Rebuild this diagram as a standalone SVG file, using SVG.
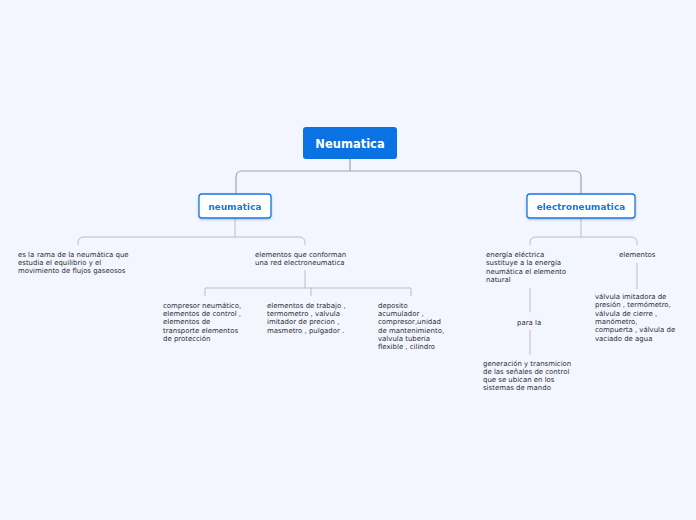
<svg xmlns="http://www.w3.org/2000/svg" width="696" height="520" viewBox="0 0 696 520">
<defs>
<style>
.bg{fill:#f3f6fe}
.c{fill:none;stroke:#b9bdc8;stroke-width:1}
.cr{fill:none;stroke:#9ea3ae;stroke-width:1.2}
.root{fill:#0a72e3}
.rt{font-family:"DejaVu Sans",Verdana,sans-serif;font-size:11.5px;font-weight:bold;fill:#ffffff;text-anchor:middle}
.sub{fill:#ffffff;stroke:#1877e6;stroke-width:1.3}
.st{font-family:"DejaVu Sans",Verdana,sans-serif;font-size:9px;font-weight:bold;fill:#1877e6;text-anchor:middle}
.t{font-family:"DejaVu Sans",Verdana,sans-serif;font-size:6.95px;fill:#2d2d35}
</style>
<filter id="sh" x="-10%" y="-10%" width="120%" height="130%"><feDropShadow dx="0" dy="1" stdDeviation="0.8" flood-color="#000" flood-opacity="0.25"/></filter>
</defs>
<rect class="bg" x="0" y="0" width="696" height="520"/>
<g id="connectors">
<path class="cr" d="M350 159 V171 M236 194 V177 Q236 171 242 171 H575 Q581 171 581 177 V194"/>
<path class="c" d="M235 218 V237 M78 245 V243 Q78 237 84 237 H299 Q305 237 305 243 V245"/>
<path class="c" d="M305 270 V288 M205 296 V288 H411 V296 M311 288 V296"/>
<path class="c" d="M581 218 V237 M530 245 V243 Q530 237 536 237 H631 Q637 237 637 243 V245"/>
<path class="c" d="M530 288 V312 M530 330 V355"/>
<path class="c" d="M637 263 V289"/>
</g>
<g id="root"><rect class="root" x="303" y="127" width="94" height="32" rx="3"/><text class="rt" x="350" y="147.5">Neumatica</text></g>
<g id="n-neumatica" filter="url(#sh)"><rect class="sub" x="199" y="194" width="72" height="24" rx="3"/><text class="st" x="235" y="210">neumatica</text></g>
<g id="n-electro" filter="url(#sh)"><rect class="sub" x="527" y="194" width="108" height="24" rx="3"/><text class="st" x="581" y="210">electroneumatica</text></g>
<g id="n-esla"><text class="t" x="18" y="257">es la<tspan x="37">rama de la neumática que</tspan><tspan x="18" y="265">estudia el equilibrio y el</tspan><tspan x="18" y="273">movimiento de flujos gaseosos</tspan></text></g>
<g id="n-elementos-red"><text class="t" x="255" y="257">elementos que conforman<tspan x="255" y="265">una red electroneumatica</tspan></text></g>
<g id="n-compresor"><text class="t" x="163" y="307.5">compresor neumático,<tspan x="163" y="316">elementos de control ,</tspan><tspan x="163" y="324.3">elementos de</tspan><tspan x="163" y="332.6">transporte elementos</tspan><tspan x="163" y="341">de protección</tspan></text></g>
<g id="n-trabajo"><text class="t" x="267" y="307.5">elementos de trabajo ,<tspan x="267" y="316">termometro , valvula</tspan><tspan x="267" y="324.3">imitador de precion ,</tspan><tspan x="267" y="332.6">masmetro , pulgador .</tspan></text></g>
<g id="n-deposito"><text class="t" x="378" y="307.5">deposito<tspan x="378" y="316">acumulador ,</tspan><tspan x="378" y="324.3">compresor,unidad</tspan><tspan x="378" y="332.6">de mantenimiento,</tspan><tspan x="378" y="341">valvula tuberia</tspan><tspan x="378" y="349.3">flexible , cilindro</tspan></text></g>
<g id="n-energia"><text class="t" x="486" y="257">energía eléctrica<tspan x="486" y="265.3">sustituye a la energía</tspan><tspan x="486" y="273.6">neumática el elemento</tspan><tspan x="486" y="282">natural</tspan></text></g>
<g id="n-elementos"><text class="t" x="619" y="257">elementos</text></g>
<g id="n-parala"><text class="t" x="517" y="324.5">para la</text></g>
<g id="n-generacion"><text class="t" x="483" y="365.5">generación y transmicion<tspan x="483" y="373.8">de las señales de control</tspan><tspan x="483" y="382.1">que se ubican en los</tspan><tspan x="483" y="390.4">sistemas de mando</tspan></text></g>
<g id="n-valvula"><text class="t" x="595" y="299">válvula imitadora de<tspan x="595" y="307.3">presión , termómetro,</tspan><tspan x="595" y="315.6">válvula de cierre ,</tspan><tspan x="595" y="323.9">manómetro,</tspan><tspan x="595" y="332.2">compuerta , válvula de</tspan><tspan x="595" y="340.5">vaciado de agua</tspan></text></g>
</svg>
